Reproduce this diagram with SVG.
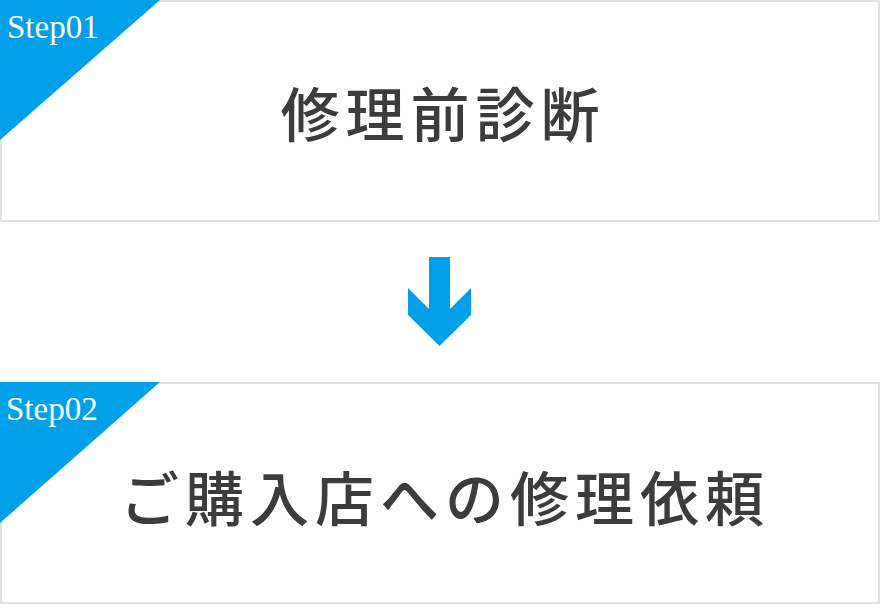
<svg xmlns="http://www.w3.org/2000/svg" width="880" height="604" viewBox="0 0 880 604">
<style>
.box{fill:#ffffff;stroke:#e1e1e1;stroke-width:2}
.tri{fill:#00a0e9}
.step{font-family:"Liberation Serif","DejaVu Serif",serif;font-size:33px;fill:#ffffff}
.title{font-family:"Noto Sans CJK JP","Noto Sans CJK SC",sans-serif;font-size:59px;font-weight:500;fill:#3c3c3c;letter-spacing:6px;text-anchor:middle}
</style>
<rect width="880" height="604" fill="#ffffff"/>
<g id="step01">
<rect class="box" x="1" y="1" width="878" height="220"/>
<polygon class="tri" points="0,0 160,0 0,140"/>
<text class="step" x="7" y="38">Step01</text>
<text class="title" x="443" y="137">修理前診断</text>
</g>
<g id="connectors">
<polygon fill="#00a0e9" points="429,257 450,257 450,309 471,288 471,315 439.5,346 408,315 408,288 429,309"/>
</g>
<g id="step02">
<rect class="box" x="1" y="383" width="878" height="220"/>
<polygon class="tri" points="0,382 160,382 0,523"/>
<text class="step" x="6" y="420">Step02</text>
<text class="title" x="445" y="521">ご購入店への修理依頼</text>
</g>
</svg>
